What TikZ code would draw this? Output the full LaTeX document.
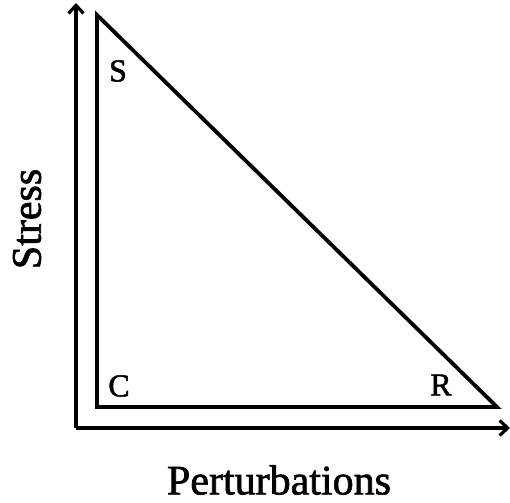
\documentclass[tikz,border=0pt]{standalone}
\usepackage{fontspec}
\setmainfont{Liberation Serif}
\newfontfamily\heavyserif[FakeBold=1.6]{Liberation Serif}
\usetikzlibrary{arrows.meta}
\begin{document}
\begin{tikzpicture}[x=1pt,y=1pt,
  axis/.style={line width=3.4pt,-{Straight Barb[length=8pt,width=15pt,line width=3.2pt]}},
  tri/.style={line width=3.8pt,line join=miter},
  corner/.style={font=\heavyserif\fontsize{32}{32}\selectfont,inner sep=0pt},
  axlabel/.style={font=\heavyserif\fontsize{42}{42}\selectfont,inner sep=0pt}]
\useasboundingbox (0,0) rectangle (510,502);
\coordinate (O) at (76,74);
\coordinate (Ytop) at (76,499);
\coordinate (Xend) at (510,74);
\coordinate (S) at (97,487);
\coordinate (C) at (97,95);
\coordinate (R) at (497,95);
\draw[axis] (O) -- (Ytop);
\draw[axis] (O) -- (Xend);
\draw[tri] (S) -- (C) -- (R) -- cycle;
\node[corner] (sl) at (118,431) {S};
\node[corner] (cl) at (119,116) {C};
\node[corner] (rl) at (441,117) {R};
\node[axlabel,rotate=90] (stress) at (27,283) {Stress};
\node[axlabel] (pert) at (279,22) {Perturbations};
\end{tikzpicture}
\end{document}
